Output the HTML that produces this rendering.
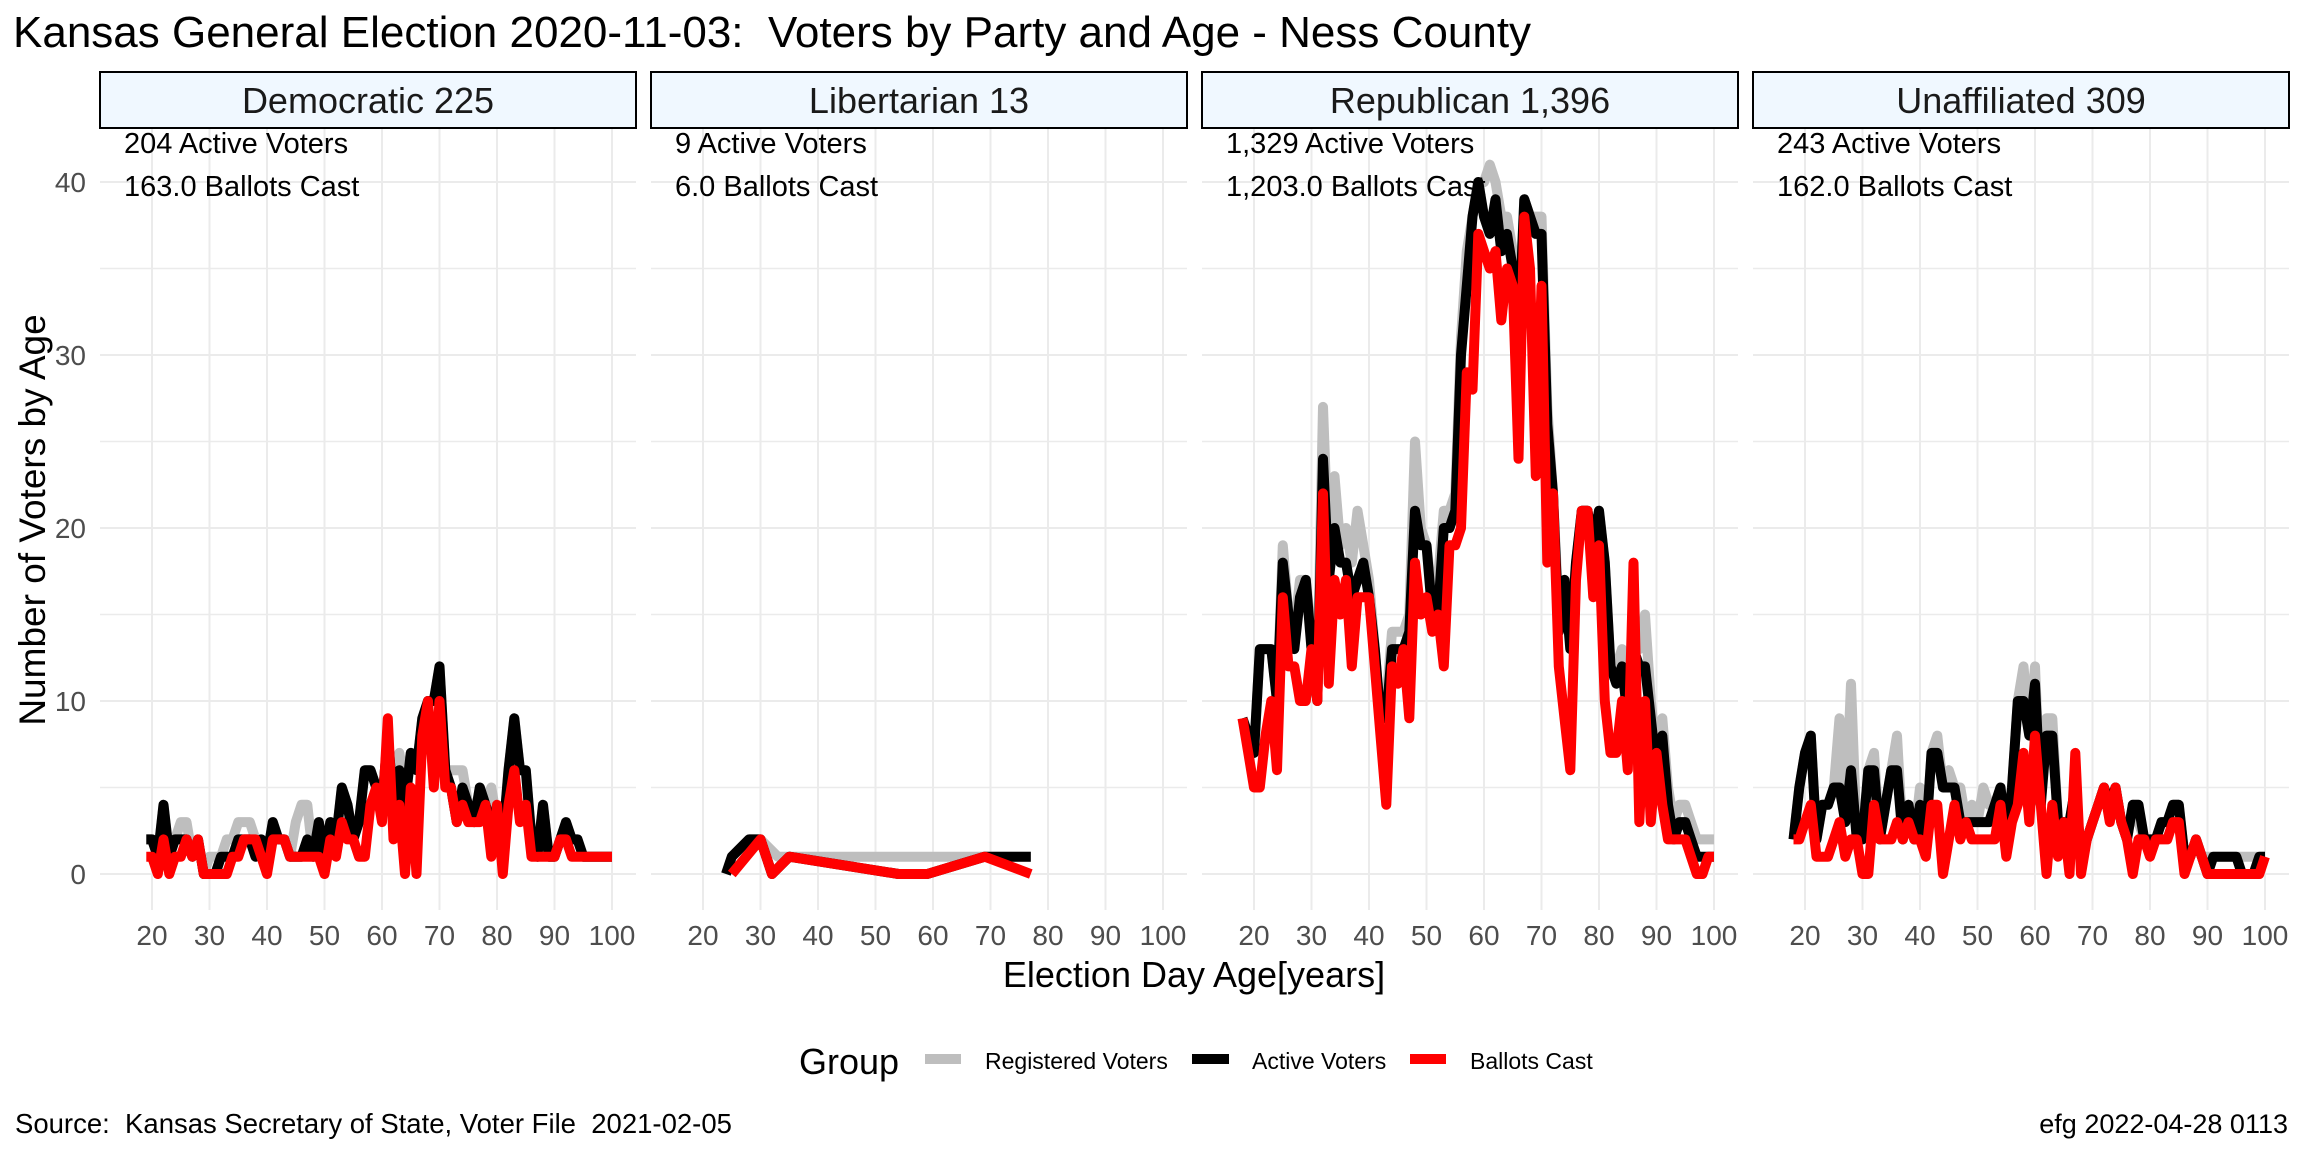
<!DOCTYPE html>
<html><head><meta charset="utf-8">
<style>
html,body{margin:0;padding:0;background:#fff;}
svg{display:block;font-family:"Liberation Sans",Arial,sans-serif;}
svg text{white-space:pre;}
</style></head>
<body>
<svg id="chart" width="2304" height="1152" viewBox="0 0 2304 1152" xmlns="http://www.w3.org/2000/svg">
<rect x="0" y="0" width="2304" height="1152" fill="#fff"/>
<text x="13" y="47" font-size="44" fill="#000">Kansas General Election 2020-11-03:  Voters by Party and Age - Ness County</text>
<g id="panels"></g>
<text transform="translate(45,520) rotate(-90)" text-anchor="middle" font-size="37" fill="#000">Number of Voters by Age</text>
<text x="1194" y="987" text-anchor="middle" font-size="36" fill="#000">Election Day Age[years]</text>
<g>
<text x="799" y="1074" font-size="36" fill="#000">Group</text>
<rect x="925" y="1054" width="36" height="10" fill="#bebebe"/>
<text x="985" y="1069" font-size="23" fill="#000">Registered Voters</text>
<rect x="1192" y="1054" width="37" height="10" fill="#000"/>
<text x="1252" y="1069" font-size="23" fill="#000">Active Voters</text>
<rect x="1410" y="1054" width="36" height="10" fill="#ff0000"/>
<text x="1470" y="1069" font-size="23" fill="#000">Ballots Cast</text>
</g>
<text x="15" y="1133" font-size="27.5" fill="#000">Source:  Kansas Secretary of State, Voter File  2021-02-05</text>
<text x="2288" y="1133" text-anchor="end" font-size="27" fill="#000">efg 2022-04-28 0113</text>
</svg>
<script>
const panelNames = ["Democratic 225","Libertarian 13","Republican 1,396","Unaffiliated 309"];
const activeNotes = ["204 Active Voters","9 Active Voters","1,329 Active Voters","243 Active Voters"];
const ballotNotes = ["163.0 Ballots Cast","6.0 Ballots Cast","1,203.0 Ballots Cast","162.0 Ballots Cast"];
const xTicks = [20,30,40,50,60,70,80,90,100];
const yTicks = [0,10,20,30,40];

const demAges = [19,20,21,22,23,24,25,26,27,28,29,30,31,32,33,34,35,36,37,38,39,40,41,42,43,44,45,46,47,48,49,50,51,52,53,54,55,56,57,58,59,60,61,62,63,64,65,66,67,68,69,70,71,72,73,74,75,76,77,78,79,80,81,82,83,84,85,86,87,88,89,90,91,92,93,94,95,96,97,98,99,100];
const demReg =    [2,2,1,4,1,2,3,3,1,2,0,1,1,1,2,2,3,3,3,2,2,1,3,2,2,1,3,4,4,1,3,1,3,2,5,4,2,3,6,6,5,4,8,4,7,5,7,6,9,10,10,12,6,6,6,6,4,3,5,4,5,3,2,6,9,6,6,2,1,4,1,1,2,3,2,2,1,1,1,1,1,1];
const demActive = [2,2,1,4,1,2,2,2,1,2,0,0,0,1,1,1,2,2,2,1,2,1,3,2,2,1,1,1,2,1,3,1,3,2,5,4,2,3,6,6,5,4,8,4,6,4,7,6,9,10,10,12,6,5,3,5,4,3,5,4,3,3,2,6,9,6,6,2,1,4,1,1,2,3,2,2,1,1,1,1,1,1];
const demBallots =[1,1,0,2,0,1,1,2,1,2,0,0,0,0,0,1,1,2,2,2,1,0,2,2,2,1,1,1,1,1,1,0,2,1,3,2,2,1,1,4,5,3,9,2,4,0,5,0,8,10,5,10,5,5,3,4,3,3,3,4,1,4,0,4,6,3,4,1,1,1,1,1,2,2,1,1,1,1,1,1,1,1];

const libRegAges = [24,25,28,30,33,35,50,60,69,77];
const libReg = [0,1,2,2,1,1,1,1,1,1];
const libActAges = [24,25,28,30,32,35,54,59,69,77];
const libActive = [0,1,2,2,0,1,0,0,1,1];
const libBalAges = [25,30,32,35,54,59,69,77];
const libBallots = [0,2,0,1,0,0,1,0];

const repAges = [18,19,20,21,22,23,24,25,26,27,28,29,30,31,32,33,34,35,36,37,38,39,40,41,42,43,44,45,46,47,48,49,50,51,52,53,54,55,56,57,58,59,60,61,62,63,64,65,66,67,68,69,70,71,72,73,74,75,76,77,78,79,80,81,82,83,84,85,86,87,88,89,90,91,92,93,94,95,96,97,98,99,100];
const repReg =    [9,8,7,13,13,13,10,19,15,14,17,17,14,11,27,18,23,19,20,18,21,19,17,13,9,10,14,14,14,15,25,20,19,16,17,21,21,22,31,36,38,40,40,41,40,38,38,36,32,39,38,38,38,27,22,15,17,14,18,21,21,19,21,18,12,12,13,10,14,13,15,10,7,9,5,3,4,4,3,2,2,2,2];
const repActive = [9,8,7,13,13,13,10,18,15,13,16,17,13,10,24,17,20,18,18,16,17,18,16,13,9,9,13,13,13,14,21,19,19,15,15,20,20,21,30,34,38,40,38,37,39,36,37,35,31,39,38,37,37,26,22,14,17,13,18,21,21,19,21,18,12,11,12,9,13,12,12,9,6,8,4,2,3,3,2,1,1,1,1];
const repBallots =[9,7,5,5,8,10,6,16,12,12,10,10,13,10,22,11,17,15,17,12,16,16,16,12,8,4,12,11,13,9,18,15,16,14,15,12,19,19,20,29,28,37,36,35,36,32,35,34,24,38,35,23,34,18,22,12,9,6,17,21,21,16,19,10,7,7,10,6,18,3,10,3,7,4,2,2,2,2,1,0,0,1,1];

const unaAges = [18,19,20,21,22,23,24,25,26,27,28,29,30,31,32,33,34,35,36,37,38,39,40,41,42,43,44,45,46,47,48,49,50,51,52,53,54,55,56,57,58,59,60,61,62,63,64,65,66,67,68,69,70,71,72,73,74,75,76,77,78,79,80,81,82,83,84,85,86,87,88,89,90,91,92,93,94,95,96,97,98,99,100];
const unaReg =    [2,5,7,8,2,4,4,5,9,3,11,2,2,6,7,2,4,6,8,2,4,2,5,2,7,8,5,6,5,5,3,4,3,5,4,4,5,2,5,10,12,8,12,4,9,9,3,3,3,5,1,2,3,4,5,4,5,3,2,4,3,2,2,2,3,3,4,4,1,1,2,1,1,1,1,1,1,1,1,1,1,1,1];
const unaActive = [2,5,7,8,2,4,4,5,5,3,6,2,2,6,6,2,4,6,6,2,4,2,4,2,7,7,5,5,5,3,3,3,3,3,3,4,5,2,5,10,10,8,11,4,8,8,3,3,3,5,1,2,3,4,5,4,5,3,2,4,4,2,2,2,3,3,4,4,1,1,2,1,0,1,1,1,1,1,0,0,0,1,1];
const unaBallots =[2,2,3,4,1,1,1,2,3,1,2,2,0,0,4,2,2,2,3,2,3,2,2,1,4,4,0,2,4,2,3,2,2,2,2,2,4,1,3,4,7,3,8,4,0,4,1,3,0,7,0,2,3,4,5,3,5,3,2,0,2,2,1,2,2,2,3,3,0,1,2,1,0,0,0,0,0,0,0,0,0,0,1];

const panelSeries = [
  [[demAges,demReg],[demAges,demActive],[demAges,demBallots]],
  [[libRegAges,libReg],[libActAges,libActive],[libBalAges,libBallots]],
  [[repAges,repReg],[repAges,repActive],[repAges,repBallots]],
  [[unaAges,unaReg],[unaAges,unaActive],[unaAges,unaBallots]]
];
const seriesColors = ["#bebebe","#000000","#ff0000"];
const seriesNames = ["registered","active","ballots"];

const NS = "http://www.w3.org/2000/svg";
const PANEL_STEP = 551, PANEL_LEFT = 100, PANEL_W = 536, PLOT_TOP = 128, PLOT_BOTTOM = 910;
function xScale(p, age){ return 152 + p*PANEL_STEP + (age-20)*5.75; }
function yScale(v){ return 874 - v*17.3; }
function mk(tag, attrs, parent){
  const el = document.createElementNS(NS, tag);
  for (const k in attrs) el.setAttribute(k, attrs[k]);
  parent.appendChild(el);
  return el;
}
const root = document.getElementById("panels");
for (let p=0; p<4; p++){
  const g = mk("g", {}, root);
  
  
  const left = PANEL_LEFT + p*PANEL_STEP;
  for (let v=0; v<=40; v+=5){
    const ln = mk("line", {x1:left, x2:left+PANEL_W, y1:yScale(v), y2:yScale(v), stroke:"#ebebeb", "stroke-width": v%10===0?2:1.5}, g);
    
    
  }
  xTicks.forEach(t=>{
    const ln = mk("line", {x1:xScale(p,t), x2:xScale(p,t), y1:PLOT_TOP, y2:PLOT_BOTTOM, stroke:"#ebebeb", "stroke-width":2}, g);
    
    
    const tx = mk("text", {x:xScale(p,t), y:945, "text-anchor":"middle", "font-size":28, fill:"#4d4d4d"}, g);
    tx.textContent = t;
    
    
  });
  const strip = mk("rect", {x:left, y:72, width:PANEL_W, height:56, fill:"#f0f8ff", stroke:"#000", "stroke-width":2}, g);
  
  
  const st = mk("text", {x:left+PANEL_W/2, y:113, "text-anchor":"middle", "font-size":36, fill:"#1a1a1a"}, g);
  st.textContent = panelNames[p];
  
  
  panelSeries[p].forEach((s, si)=>{
    const pts = s[0].map((a,i)=> xScale(p,a).toFixed(1)+","+yScale(s[1][i]).toFixed(1)).join(" ");
    const pl = mk("polyline", {points:pts, fill:"none", stroke:seriesColors[si], "stroke-width":10, "stroke-linejoin":"round", "stroke-linecap":"butt"}, g);
    
    
  });
  const a1 = mk("text", {x:left+24, y:153, "font-size":29, fill:"#000"}, g);
  a1.textContent = activeNotes[p];
  
  
  const a2 = mk("text", {x:left+24, y:196, "font-size":29, fill:"#000"}, g);
  a2.textContent = ballotNotes[p];
  
  
}
yTicks.forEach(t=>{
  const tx = mk("text", {x:86, y:yScale(t)+10, "text-anchor":"end", "font-size":28, fill:"#4d4d4d"}, root);
  tx.textContent = t;
  
  
});
</script>
</body></html>
